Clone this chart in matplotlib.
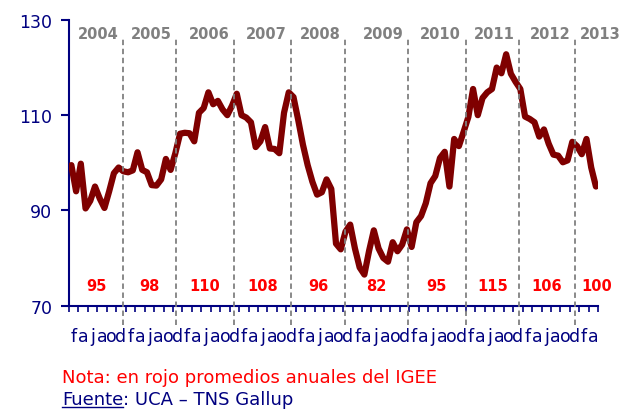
import numpy as np
import matplotlib
matplotlib.use('Agg')
import matplotlib.pyplot as plt
from matplotlib.lines import Line2D
from matplotlib.transforms import blended_transform_factory

# monthly IGEE index, Jan 2004 .. Apr 2013
igee = [
    99.5, 94.0, 99.8, 90.4, 92.0, 95.0, 92.5, 90.5, 94.0, 97.8, 99.0, 98.2,         # 2004
    98.0, 98.4, 102.2, 98.5, 98.0, 95.3, 95.2, 96.5, 100.8, 98.5, 102.0, 106.1,     # 2005
    106.3, 106.2, 104.5, 110.5, 111.5, 114.8, 112.3, 113.0, 111.2, 110.0, 112.0, 114.5,  # 2006
    110.0, 109.5, 108.5, 103.3, 104.5, 107.5, 103.0, 102.9, 102.0, 110.5, 114.8, 113.8,  # 2007
    109.0, 103.8, 99.5, 96.0, 93.3, 93.8, 96.5, 94.5, 83.0, 81.8, 85.5, 87.0,       # 2008
    82.0, 78.0, 76.5, 81.5, 85.8, 82.0, 80.0, 79.2, 83.3, 81.4, 82.8, 86.0,         # 2009
    82.3, 87.5, 88.8, 91.5, 95.7, 97.2, 101.0, 102.3, 95.0, 105.0, 103.5, 106.5,    # 2010
    109.6, 115.5, 110.0, 113.6, 114.8, 115.5, 120.0, 118.8, 122.8, 118.7, 117.0, 115.5,  # 2011
    109.7, 109.2, 108.5, 105.5, 107.0, 104.0, 101.7, 101.5, 100.1, 100.5, 104.4, 103.5,  # 2012
    101.8, 105.0, 99.0, 95.0,                                                        # 2013
]
years = ['2004', '2005', '2006', '2007', '2008', '2009', '2010', '2011', '2012', '2013']
annual_avg = [95, 98, 110, 108, 96, 82, 95, 115, 106, 100]
month_letters = list('fajaod') * 9 + ['f', 'a']
y_ticks = [70, 90, 110, 130]

# hand drawn year separators (month units), as placed in the original
year_line_x = [11.5, 22.6, 34.9, 46.9, 58.5, 71.7, 83.9, 95.2, 107.1]

NAVY = '#000080'
MAROON = '#7f0000'
GRAY = '#808080'
RED = '#ff0000'

plt.rcParams['font.family'] = ['DejaVu Sans']

fig = plt.figure(figsize=(6.21, 4.10), dpi=100)
ax = fig.add_axes([69 / 621, 1 - 306.5 / 410, (598.3 - 69) / 621, (306.5 - 21) / 410])

x = np.arange(len(igee)) + 0.5
ax.plot(x, igee, color=MAROON, lw=4.5, solid_joinstyle='round',
        solid_capstyle='round', zorder=3)
ax.set_xlim(0, 112)
ax.set_ylim(70, 130)

# year separators
for xv in year_line_x:
    ax.plot([xv, xv], [66, 126], color=GRAY, lw=1.3, ls=(0, (3, 2)),
            clip_on=False, zorder=4)

# year labels along the top
for i, yr in enumerate(years):
    if i < len(year_line_x):
        ax.text(year_line_x[i] - 0.9, 126.3, yr, ha='right', va='baseline',
                color=GRAY, fontsize=10.5, fontweight='bold', clip_on=False)
    else:
        ax.text(year_line_x[-1] + 0.9, 126.3, yr, ha='left', va='baseline',
                color=GRAY, fontsize=10.5, fontweight='bold', clip_on=False)

# annual averages in red
edges = [0] + year_line_x + [116.3]
for i, avg in enumerate(annual_avg):
    mid = (edges[i] + edges[i + 1]) / 2
    ax.text(mid, 73.2, str(avg), ha='center', va='baseline', color=RED,
            fontsize=10.5, fontweight='bold', clip_on=False)

# axes styling
for side in ['top', 'right']:
    ax.spines[side].set_visible(False)
for side in ['left', 'bottom']:
    ax.spines[side].set_color(NAVY)
    ax.spines[side].set_linewidth(1.5)

ax.set_yticks(y_ticks)
ax.set_yticklabels([str(v) for v in y_ticks])
ax.tick_params(axis='y', colors=NAVY, labelsize=12.5, length=6, width=1.5, pad=6)

ax.set_xticks([])
ax.set_xticks(np.arange(0, 113, 2), minor=True)
ax.tick_params(axis='x', which='minor', colors=NAVY, length=4, width=1.2, direction='out')

# month initials under the axis
trans = blended_transform_factory(ax.transData, ax.transAxes)
for i, letter in enumerate(month_letters):
    ax.text(1 + 2 * i, -0.124, letter, transform=trans, ha='center', va='baseline',
            color=NAVY, fontsize=12.5)

# notes
fig.text(62 / 621, 1 - 383 / 410, 'Nota: en rojo promedios anuales del IGEE',
         color=RED, fontsize=13, va='baseline')
src = fig.text(62 / 621, 1 - 405 / 410, 'Fuente', color=NAVY, fontsize=13, va='baseline')
fig.canvas.draw()
bb = src.get_window_extent(fig.canvas.get_renderer())
fig.text(bb.x1 / fig.bbox.width, 1 - 405 / 410, ': UCA \u2013 TNS Gallup',
         color=NAVY, fontsize=13, va='baseline')
uy = 1 - 407.5 / 410
fig.add_artist(Line2D([bb.x0 / fig.bbox.width, bb.x1 / fig.bbox.width], [uy, uy],
                      transform=fig.transFigure, color=NAVY, lw=1))

fig.savefig('out.png', dpi=100)
